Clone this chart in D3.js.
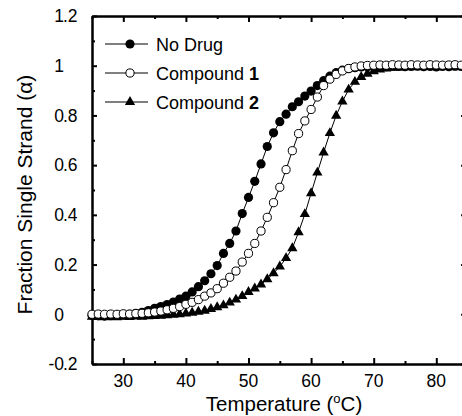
<!DOCTYPE html>
<html>
<head>
<meta charset="utf-8">
<script src="https://cdn.jsdelivr.net/npm/d3@7"></script>
<style>
  html, body { margin: 0; padding: 0; background: #fff; }
  svg { display: block; font-family: "Liberation Sans", Arial, sans-serif; }
</style>
</head>
<body>
<svg id="chart" width="462" height="416"></svg>
<script>
// ---- data ----
const temps = [25,26,27,28,29,30,31,32,33,34,35,36,37,38,39,40,41,42,43,44,45,46,47,48,49,50,
  51,52,53,54,55,56,57,58,59,60,61,62,63,64,65,66,67,68,69,70,71,72,73,74,75,76,77,78,79,80,
  81,82,83,84,85];

const noDrug = [-0.005,-0.006,-0.007,-0.006,-0.004,-0.002,0.000,0.004,0.008,0.015,0.024,0.031,
  0.039,0.049,0.061,0.073,0.090,0.111,0.135,0.163,0.196,0.245,0.285,0.335,0.405,0.470,
  0.535,0.605,0.675,0.730,0.775,0.805,0.835,0.855,0.878,0.898,0.920,0.940,0.958,0.972,
  0.982,0.988,0.992,0.995,0.996,0.997,0.997,0.996,0.998,0.997,0.996,0.997,0.998,0.996,
  0.997,0.995,0.997,0.996,0.998,0.997,0.996];

const compound1 = [0.000,0.001,0.000,0.001,0.000,0.002,0.001,0.003,0.004,0.006,0.009,0.013,
  0.018,0.024,0.031,0.040,0.048,0.059,0.073,0.086,0.103,0.125,0.149,0.174,0.210,0.245,
  0.285,0.335,0.390,0.449,0.511,0.582,0.658,0.727,0.778,0.824,0.874,0.920,0.946,0.965,
  0.979,0.989,0.995,0.999,1.001,1.002,1.003,1.002,1.004,1.003,1.002,1.004,1.003,1.002,
  1.004,1.003,1.002,1.003,1.004,1.002,1.003];

const compound2 = [-0.010,-0.011,-0.012,-0.011,-0.012,-0.010,-0.011,-0.009,-0.010,-0.008,
  -0.007,-0.006,-0.004,-0.002,0.000,0.003,0.006,0.010,0.014,0.021,0.028,0.036,0.047,0.059,
  0.073,0.090,0.104,0.120,0.141,0.165,0.192,0.226,0.266,0.330,0.403,0.487,0.570,0.651,
  0.729,0.799,0.856,0.904,0.935,0.955,0.968,0.978,0.985,0.989,0.992,0.993,0.994,0.995,
  0.994,0.996,0.995,0.994,0.996,0.995,0.994,0.995,0.996];

const xMajorTicks = [30,40,50,60,70,80];
const xMinorTicks = [25,35,45,55,65,75,85];
const yMajorTicks = [-0.2,0,0.2,0.4,0.6,0.8,1,1.2];
const yMinorTicks = [-0.1,0.1,0.3,0.5,0.7,0.9,1.1];
const yTickLabels = ["-0.2","0","0.2","0.4","0.6","0.8","1","1.2"];
const xTickLabels = ["30","40","50","60","70","80"];

const seriesNames = ["No Drug", "Compound ", "Compound "];
const seriesBold = ["", "1", "2"];

// ---- layout ----
const svg = d3.select("#chart");
const pLeft = 92, pRight = 467.6, pTop = 16, pBottom = 364;
const x = d3.scaleLinear().domain([25, 85]).range([pLeft, pRight]);
const y = d3.scaleLinear().domain([-0.2, 1.2]).range([pBottom, pTop]);

const axisW = 2;

// axes with inward ticks
function styleAxis(g) {
  g.selectAll("path.domain").attr("stroke", "#000").attr("stroke-width", axisW);
  g.selectAll(".tick line").attr("stroke", "#000").attr("stroke-width", 2);
  g.selectAll(".tick text").remove();
}
svg.append("g").attr("transform", `translate(0,${pBottom})`)
  .call(d3.axisBottom(x).tickValues(xMajorTicks).tickSize(-6).tickSizeOuter(0)).call(styleAxis);
svg.append("g").attr("transform", `translate(0,${pBottom})`)
  .call(d3.axisBottom(x).tickValues(xMinorTicks).tickSize(-3).tickSizeOuter(0)).call(styleAxis);
svg.append("g").attr("transform", `translate(0,${pTop})`)
  .call(d3.axisTop(x).tickValues(xMajorTicks).tickSize(-6).tickSizeOuter(0)).call(styleAxis);
svg.append("g").attr("transform", `translate(0,${pTop})`)
  .call(d3.axisTop(x).tickValues(xMinorTicks).tickSize(-3).tickSizeOuter(0)).call(styleAxis);
svg.append("g").attr("transform", `translate(${pLeft},0)`)
  .call(d3.axisLeft(y).tickValues(yMajorTicks).tickSize(-5).tickSizeOuter(0)).call(styleAxis);
svg.append("g").attr("transform", `translate(${pLeft},0)`)
  .call(d3.axisLeft(y).tickValues(yMinorTicks).tickSize(-3).tickSizeOuter(0)).call(styleAxis);
svg.append("g").attr("transform", `translate(${pRight},0)`)
  .call(d3.axisRight(y).tickValues(yMajorTicks).tickSize(-6.5).tickSizeOuter(0)).call(styleAxis);
svg.append("g").attr("transform", `translate(${pRight},0)`)
  .call(d3.axisRight(y).tickValues(yMinorTicks).tickSize(-3).tickSizeOuter(0)).call(styleAxis);

// x tick labels
svg.append("g").selectAll("text").data(xMajorTicks).join("text")
  .attr("x", d => x(d)).attr("y", 387)
  .attr("text-anchor", "middle").attr("font-size", 17.5)
  .text((d, i) => xTickLabels[i]);

// y tick labels aligned on the decimal point
const dec = 64;
const yl = svg.append("g").attr("font-size", 17.5);
yMajorTicks.forEach((v, i) => {
  const s = yTickLabels[i];
  const k = s.indexOf(".");
  const ip = k < 0 ? s : s.slice(0, k);
  const fp = k < 0 ? "" : s.slice(k);
  yl.append("text").attr("x", dec).attr("y", y(v) + 6.3).attr("text-anchor", "end").text(ip);
  if (fp) yl.append("text").attr("x", dec - 1).attr("y", y(v) + 6.3).attr("text-anchor", "start").text(fp);
});

// axis titles
const xt = svg.append("text").attr("x", 284).attr("y", 411).attr("text-anchor", "middle")
  .attr("font-size", 20.5);
xt.append("tspan").text("Temperature (");
xt.append("tspan").attr("font-size", 13).attr("dy", -8).text("o");
xt.append("tspan").attr("dy", 8).text("C)");

svg.append("text").attr("transform", `translate(32,194.5) rotate(-90)`)
  .attr("text-anchor", "middle").attr("font-size", 21)
  .text("Fraction Single Strand (\u03b1)");

// ---- series ----
const line = d3.line().x(d => x(d[0])).y(d => y(d[1]));
const tri = d3.symbol().type(d3.symbolTriangle).size(46);

function pairs(vals) { return temps.map((t, i) => [t, vals[i]]); }

const gData = svg.append("g");
function drawSeries(vals, kind) {
  const pts = pairs(vals);
  gData.append("path").datum(pts).attr("d", line)
    .attr("fill", "none").attr("stroke", "#000").attr("stroke-width", 1);
  const g = gData.append("g");
  if (kind === "tri") {
    g.selectAll("path").data(pts).join("path")
      .attr("d", tri).attr("transform", d => `translate(${x(d[0])},${y(d[1])})`)
      .attr("fill", "#000");
  } else {
    g.selectAll("circle").data(pts).join("circle")
      .attr("cx", d => x(d[0])).attr("cy", d => y(d[1])).attr("r", kind === "open" ? 4.1 : 4.6)
      .attr("fill", kind === "open" ? "#fff" : "#000")
      .attr("stroke", "#000").attr("stroke-width", kind === "open" ? 1 : 0);
  }
}
drawSeries(noDrug, "filled");
drawSeries(compound2, "tri");
drawSeries(compound1, "open");

// ---- legend ----
const legRows = [44, 73, 102];
const legKinds = ["filled", "open", "tri"];
const lg = svg.append("g");
legRows.forEach((ry, i) => {
  lg.append("line").attr("x1", 105).attr("x2", 148).attr("y1", ry).attr("y2", ry)
    .attr("stroke", "#000").attr("stroke-width", 1.2);
  if (legKinds[i] === "tri") {
    lg.append("path").attr("d", tri).attr("transform", `translate(130,${ry})`).attr("fill", "#000");
  } else {
    lg.append("circle").attr("cx", 130).attr("cy", ry).attr("r", legKinds[i] === "open" ? 4.1 : 4.6)
      .attr("fill", legKinds[i] === "open" ? "#fff" : "#000")
      .attr("stroke", "#000").attr("stroke-width", legKinds[i] === "open" ? 1 : 0);
  }
  const t = lg.append("text").attr("x", 156).attr("y", ry + 6.5).attr("font-size", 18);
  t.append("tspan").text(seriesNames[i]);
  if (seriesBold[i]) t.append("tspan").attr("font-weight", "bold").text(seriesBold[i]);
});
</script>
</body>
</html>
